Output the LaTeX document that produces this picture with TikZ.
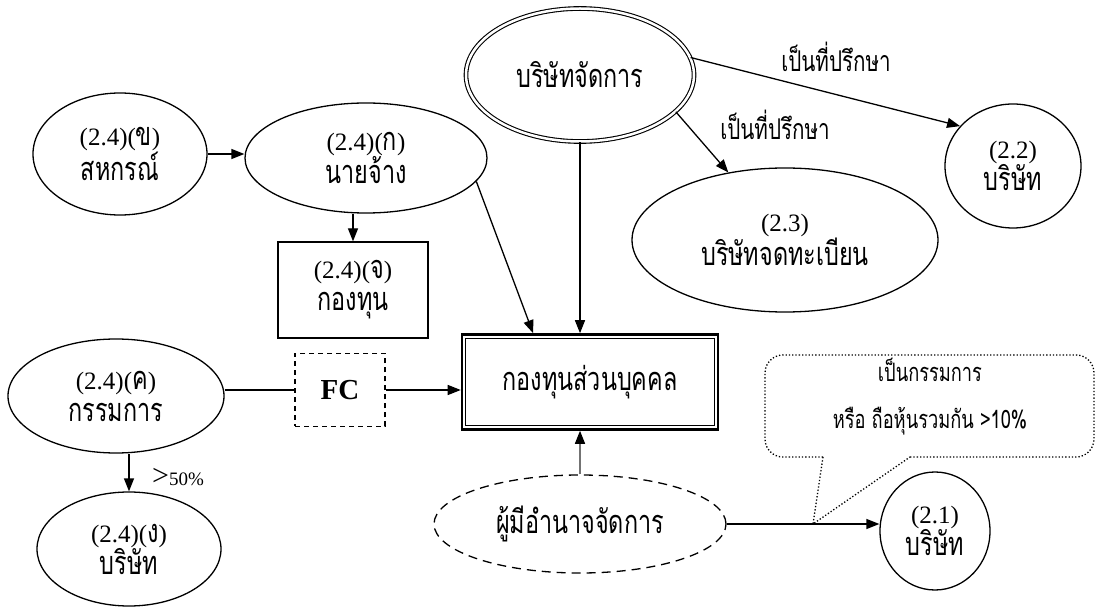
\documentclass[tikz,border=0pt]{standalone}
\usepackage{fontspec}
\setmainfont{Liberation Serif}
\newfontfamily\thaif[Script=Thai,FakeStretch=0.72,Scale=1.3]{Loma}
\usetikzlibrary{shapes.geometric,arrows.meta,calc}
\begin{document}
\begin{tikzpicture}[x=1pt,y=-1pt,
  every node/.style={inner sep=0pt,font=\fontsize{25}{32}\selectfont,align=center},
  ell/.style={draw,ellipse,line width=1.3pt},
  box/.style={draw,rectangle,line width=1.3pt},
  lnk/.style={line width=1.3pt},
  arr/.style={line width=1.3pt,-{Triangle[length=13pt,width=10pt]}},
  garr/.style={line width=1.3pt,draw=black!55,-{Triangle[length=13pt,width=10pt,color=black]}},
  lbl/.style={font=\thaif\fontsize{22}{24}\selectfont}
]
\useasboundingbox (0,0) rectangle (1098,609);
\fill[white] (0,0) rectangle (1098,609);

% nodes
\node[ell,minimum width=174pt,minimum height=122pt] (kh) at (120,154) {(2.4)({\thaif ข})\\{\thaif สหกรณ์}};
\node[ell,minimum width=242pt,minimum height=110pt] (k) at (366,158) {(2.4)({\thaif ก})\\{\thaif นายจ้าง}};
\node[box,minimum width=150pt,minimum height=96pt] (j) at (353,290) {(2.4)({\thaif จ})\\{\thaif กองทุน}};
\node[ell,minimum width=216pt,minimum height=114pt] (kc) at (116,396) {(2.4)({\thaif ค})\\{\thaif กรรมการ}};
\node[ell,minimum width=184pt,minimum height=114pt] (ng) at (129,549) {(2.4)({\thaif ง})\\{\thaif บริษัท}};
\node[box,dashed,dash pattern=on 5pt off 4pt,minimum width=90pt,minimum height=73pt,font=\fontsize{29}{29}\selectfont\bfseries] (fc) at (340,390) {FC};
\node[draw,rectangle,line width=2.6pt,minimum width=256pt,minimum height=95pt] (fund) at (590,382) {{\thaif กองทุนส่วนบุคคล}};
\draw[line width=1.1pt] ([shift={(5pt,-5pt)}]fund.north west) rectangle ([shift={(-5pt,5pt)}]fund.south east);
\node[ell,double,double distance=2.5pt,line width=1.1pt,minimum width=228pt,minimum height=133pt] (mgr) at (580,75) {{\thaif บริษัทจัดการ}};
\node[ell,minimum width=306pt,minimum height=144pt] (r23) at (785,240) {(2.3)\\{\thaif บริษัทจดทะเบียน}};
\node[ell,minimum width=136pt,minimum height=124pt] (r22) at (1013,166) {(2.2)\\{\thaif บริษัท}};
\node[ell,dashed,dash pattern=on 9pt off 6pt,minimum width=292pt,minimum height=98pt] (auth) at (580,524) {{\thaif ผู้มีอำนาจจัดการ}};
\node[ell,minimum width=110pt,minimum height=118pt] (r21) at (935,531) {(2.1)\\{\thaif บริษัท}};

% labels
\node[lbl] (l1) at (836,57) {เป็นที่ปรึกษา};
\node[lbl] (l2) at (775,125) {เป็นที่ปรึกษา};
\node (l50) at (178,477) {{\fontsize{30}{30}\selectfont >}{\fontsize{19}{19}\selectfont 50\%}};
\node[font=\thaif\fontsize{19.5}{47}\selectfont] (bt) at (930,397) {เป็นกรรมการ\\หรือ ถือหุ้นรวมกัน >10\%};

% connectors
\draw[arr] (kh.east) -- (kh.east -| k.west);
\draw[arr] (k.south -| j.north) -- (j.north);
\draw[arr] (k.-12) -- ($(fund.north west)!0.28!(fund.north east)$);
\draw[arr] (mgr.south) -- (mgr.south |- fund.north);
\draw[arr] (mgr.9) -- (r22.143);
\draw[arr] (mgr.-21) -- (r23.130);
\draw[lnk] (fc.west -| kc.east) -- (fc.west);
\draw[arr] (fc.east) -- (fc.east -| fund.west);
\draw[arr] (kc.south -| ng.north) -- (ng.north);
\draw[garr] (auth.north) -- (auth.north |- fund.south);
\draw[arr] (auth.east) -- (auth.east -| r21.west);

% speech bubble
\coordinate (tip) at (813,524);
\draw[line width=1.3pt,dotted,rounded corners=18pt] (823,457) -- (765,457) -- (765,355) -- (1094,355) -- (1094,457) -- (910,457);
\draw[line width=1.3pt,dotted] (823,457) -- (tip) -- (910,457);
\end{tikzpicture}
\end{document}
